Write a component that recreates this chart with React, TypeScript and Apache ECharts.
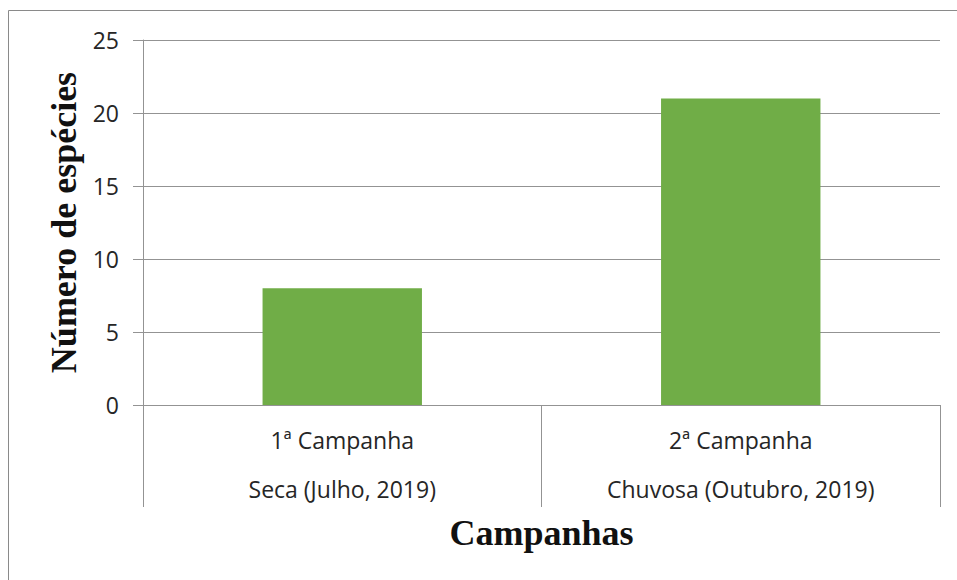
import React, { useEffect, useRef } from "react";
import * as echarts from "echarts";

const campaigns = ["1ª Campanha", "2ª Campanha"];
const seasons = ["Seca (Julho, 2019)", "Chuvosa (Outubro, 2019)"];
const speciesCount = [8, 21];
const yTicks = { min: 0, max: 25, interval: 5 };
const yTitle = "Número de espécies";
const xTitle = "Campanhas";

const TEXT = "#262626";
const LINE = "#939393";

export default function App() {
  const ref = useRef<HTMLDivElement>(null);
  useEffect(() => {
    if (!ref.current) return;
    const chart = echarts.init(ref.current, null, { renderer: "svg" });
    chart.setOption({
      animation: false,
      backgroundColor: "#ffffff",
      grid: { left: 143, right: 17, top: 40, bottom: 175, containLabel: false },
      graphic: [
        {
          type: "rect",
          shape: { x: 8.5, y: 10.5, width: 1000, height: 700 },
          style: { fill: "none", stroke: "#8a8a8a", lineWidth: 1 },
          silent: true,
        },
      ],
      xAxis: {
        type: "category",
        data: campaigns,
        name: xTitle,
        nameLocation: "middle",
        nameGap: 110,
        nameTextStyle: {
          fontFamily: "Liberation Serif",
          fontWeight: "bold",
          fontSize: 36,
          color: "#111",
        },
        axisLine: { show: true, lineStyle: { color: LINE, width: 1 } },
        axisTick: { show: true, length: 102, interval: 0, lineStyle: { color: LINE, width: 1 } },
        axisLabel: {
          interval: 0,
          margin: 10,
          formatter: (_v: string, i: number) => `{a|${campaigns[i]}}\n{a|${seasons[i]}}`,
          rich: {
            a: { fontFamily: "Open Sans", fontSize: 23, lineHeight: 49, color: TEXT },
          },
        },
        splitLine: { show: false },
      },
      yAxis: {
        type: "value",
        min: yTicks.min,
        max: yTicks.max,
        interval: yTicks.interval,
        name: yTitle,
        nameLocation: "middle",
        nameGap: 50,
        nameTextStyle: {
          fontFamily: "Liberation Serif",
          fontWeight: "bold",
          fontSize: 36,
          color: "#111",
        },
        axisLine: { show: true, lineStyle: { color: LINE, width: 1 } },
        axisTick: { show: true, length: 10, lineStyle: { color: LINE, width: 1 } },
        axisLabel: { margin: 24, fontFamily: "Open Sans", fontSize: 23, color: TEXT },
        splitLine: { show: true, lineStyle: { color: LINE, width: 1 } },
      },
      series: [
        {
          type: "bar",
          data: speciesCount,
          barWidth: "40%",
          itemStyle: { color: "#70AD47" },
        },
      ],
    });
    return () => chart.dispose();
  }, []);
  return (
    <div
      ref={ref}
      style={{ position: "absolute", left: 0, top: 0, width: 957, height: 580 }}
    />
  );
}
